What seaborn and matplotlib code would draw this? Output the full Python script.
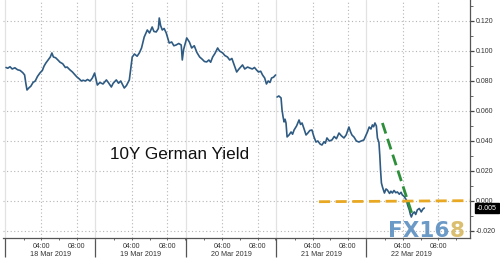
import numpy as np
import pandas as pd
import matplotlib
matplotlib.use("Agg")
import matplotlib.pyplot as plt
import matplotlib.transforms as mtransforms
from matplotlib.ticker import FixedLocator, NullFormatter
import seaborn as sns

# ---------------- data ----------------
day_labels = ["18 Mar 2019", "19 Mar 2019", "20 Mar 2019", "21 Mar 2019", "22 Mar 2019"]
time_tick_hours = [4, 8]
time_tick_labels = ["04:00", "08:00"]
y_ticks = [-0.020, 0.000, 0.020, 0.040, 0.060, 0.080, 0.100, 0.120]
title_text = "10Y German Yield"

hours_18 = [0.0, 0.2, 0.45, 0.7, 1.0, 1.3, 1.6, 1.9, 2.1, 2.25, 2.37, 2.6, 2.8, 3.05, 3.3, 3.55,
            3.85, 4.1, 4.3, 4.5, 4.75, 5.0, 5.18, 5.35, 5.6, 5.86, 6.1, 6.4, 6.7, 6.9, 7.2, 7.5,
            7.8, 8.0, 8.25, 8.5, 8.7, 8.95, 9.2, 9.5, 9.75, 10.0]
yield_18 = [0.0890, 0.0885, 0.0895, 0.0880, 0.0888, 0.0875, 0.0870, 0.0855, 0.0840, 0.0780,
            0.0740, 0.0755, 0.0765, 0.0790, 0.0800, 0.0830, 0.0855, 0.0870, 0.0900, 0.0920,
            0.0940, 0.0960, 0.0987, 0.0960, 0.0955, 0.0940, 0.0925, 0.0915, 0.0890, 0.0893,
            0.0875, 0.0860, 0.0840, 0.0827, 0.0815, 0.0800, 0.0805, 0.0800, 0.0810, 0.0800,
            0.0820, 0.0853]

hours_19 = [0.11, 0.4, 0.75, 1.13, 1.35, 1.69, 1.9, 2.25, 2.5, 2.75, 3.15, 3.4, 3.72, 4.05,
            4.3, 4.6, 4.85, 5.1, 5.4, 5.75, 6.0, 6.3, 6.5, 6.76, 7.0, 7.1, 7.25, 7.44, 7.65,
            7.89, 8.22, 8.5, 8.75, 9.0, 9.3, 9.58, 9.7, 9.85]
yield_19 = [0.0773, 0.0790, 0.0780, 0.0807, 0.0790, 0.0760, 0.0785, 0.0807, 0.0785, 0.0800,
            0.0753, 0.0770, 0.0807, 0.0960, 0.0980, 0.0965, 0.0987, 0.1020, 0.1093, 0.1140,
            0.1120, 0.1160, 0.1130, 0.1127, 0.1150, 0.1220, 0.1170, 0.1140, 0.1150, 0.1120,
            0.1053, 0.1060, 0.1035, 0.1040, 0.1050, 0.1040, 0.0940, 0.1010]

hours_20 = [0.0, 0.3, 0.56, 0.85, 1.15, 1.46, 1.75, 2.0, 2.25, 2.5, 2.7, 2.93, 3.2, 3.49, 3.7,
            4.06, 4.3, 4.6, 4.85, 5.1, 5.4, 5.64, 5.9, 6.3, 6.55, 6.87, 7.1, 7.4, 7.65, 7.89,
            8.1, 8.35, 8.56, 8.8, 9.0, 9.2, 9.4, 9.58, 9.8, 10.03]
yield_20 = [0.1087, 0.1060, 0.1020, 0.1035, 0.0990, 0.0960, 0.0945, 0.0930, 0.0927, 0.0940,
            0.0925, 0.0960, 0.0985, 0.1020, 0.1000, 0.0987, 0.0970, 0.0960, 0.0940, 0.0950,
            0.0900, 0.0860, 0.0880, 0.0907, 0.0880, 0.0893, 0.0887, 0.0880, 0.0890, 0.0873,
            0.0860, 0.0865, 0.0840, 0.0820, 0.0780, 0.0800, 0.0790, 0.0820, 0.0825, 0.0840]

hours_21 = [0.0, 0.2, 0.45, 0.56, 0.68, 0.79, 0.9, 1.01, 1.13, 1.35, 1.58, 1.75, 1.92, 2.2,
            2.48, 2.65, 2.82, 3.05, 3.27, 3.5, 3.7, 3.94, 4.15, 4.39, 4.6, 4.85, 5.07, 5.3,
            5.45, 5.63, 5.9, 6.2, 6.45, 6.7, 6.99, 7.25, 7.55, 7.8, 8.11, 8.3, 8.45, 8.7,
            8.95, 9.24, 9.5, 9.8]
yield_21 = [0.0693, 0.0700, 0.0687, 0.0607, 0.0560, 0.0527, 0.0545, 0.0520, 0.0427, 0.0440,
            0.0460, 0.0445, 0.0473, 0.0500, 0.0540, 0.0510, 0.0520, 0.0480, 0.0440, 0.0455,
            0.0470, 0.0473, 0.0430, 0.0393, 0.0400, 0.0380, 0.0373, 0.0395, 0.0385, 0.0420,
            0.0400, 0.0407, 0.0430, 0.0415, 0.0453, 0.0435, 0.0420, 0.0440, 0.0493, 0.0460,
            0.0440, 0.0425, 0.0400, 0.0393, 0.0400, 0.0407]

hours_22 = [0.0, 0.2, 0.4, 0.56, 0.7, 0.85, 1.01, 1.13, 1.3, 1.4, 1.48, 1.58, 1.7, 1.92, 2.1,
            2.25, 2.5, 2.65, 2.82, 3.0, 3.2, 3.38, 3.6, 3.8, 3.94, 4.15, 4.39, 4.55, 4.73,
            4.85, 4.96, 5.1, 5.3, 5.45, 5.63, 5.85, 6.08, 6.25, 6.42]
yield_22 = [0.0460, 0.0493, 0.0480, 0.0507, 0.0495, 0.0520, 0.0500, 0.0420, 0.0390, 0.0300,
            0.0207, 0.0120, 0.0093, 0.0053, 0.0080, 0.0073, 0.0050, 0.0065, 0.0053, 0.0070,
            0.0055, 0.0060, 0.0045, 0.0058, 0.0040, 0.0030, 0.0007, -0.0030, -0.0060, -0.0090,
            -0.0107, -0.0085, -0.0073, -0.0090, -0.0060, -0.0050, -0.0073, -0.0055, -0.0047]

# line breaks (gap) only between 20 Mar and 21 Mar
segment_of_day = [0, 0, 0, 1, 1]

# annotation lines (day index, hour, value)
green_day = [4, 4]
green_hour = [1.69, 5.07]
green_val = [0.0520, -0.0093]
orange_day = [3, 4]
orange_hour = [4.73, 11.5]
orange_val = [-0.0005, 0.0002]

# ---------------- build frame ----------------
DAY_SPAN = 10.2  # compressed session length (hours shown per day)

def to_x(day, hour):
    return day * DAY_SPAN + hour

all_hours = [hours_18, hours_19, hours_20, hours_21, hours_22]
all_yields = [yield_18, yield_19, yield_20, yield_21, yield_22]
rows = []
for d, (hs, ys) in enumerate(zip(all_hours, all_yields)):
    for h, v in zip(hs, ys):
        rows.append({"seg": segment_of_day[d], "x": to_x(d, h), "yield": v})
df = pd.DataFrame(rows)

# ---------------- plot ----------------
sns.set_style("white")
plt.rcParams["font.family"] = ["Liberation Sans", "DejaVu Sans"]

fig = plt.figure(figsize=(5.0, 2.61), dpi=100)
ax = fig.add_axes([0.006, 0.0881, 0.934, 0.9119])

x_left = to_x(0, -0.34)
x_right = to_x(4, 11.58)
ax.set_xlim(x_left, x_right)
ax.set_ylim(-0.0247, 0.134)

# grid
grid_c = "#b5b5b5"
for yv in y_ticks:
    ax.axhline(yv, color=grid_c, lw=0.8, ls=(0, (1, 2.2)), zorder=0)
for d in range(len(day_labels)):
    for h in time_tick_hours:
        ax.axvline(to_x(d, h), color=grid_c, lw=0.8, ls=(0, (1, 2.2)), zorder=0)
    ax.axvline(to_x(d, -0.11), color="#e2e2e2", lw=0.9, zorder=0)

sns.lineplot(data=df, x="x", y="yield", units="seg", estimator=None,
             color="#2f5b82", lw=1.2, ax=ax, zorder=3)

# annotation dashed lines
ax.plot([to_x(d, h) for d, h in zip(orange_day, orange_hour)], orange_val,
        color="#e8a822", lw=2.0, ls=(0, (4, 2)), zorder=4)
ax.plot([to_x(d, h) for d, h in zip(green_day, green_hour)], green_val,
        color="#2e8f3a", lw=2.0, ls=(0, (4, 2)), zorder=4)

# spines
for s in ["top", "left"]:
    ax.spines[s].set_visible(False)
for s in ["right", "bottom"]:
    ax.spines[s].set_visible(True)
    ax.spines[s].set_color("#555555")
    ax.spines[s].set_linewidth(0.9)

# y axis on the right
ax.yaxis.tick_right()
ax.set_yticks(y_ticks)
ax.set_yticklabels([f"{v:.3f}" for v in y_ticks])
ax.yaxis.set_minor_locator(FixedLocator(np.arange(-0.02, 0.135, 0.01)))
ax.tick_params(axis="y", which="major", direction="out", length=3, width=0.9,
               color="#444444", labelsize=5, labelcolor="#333333", pad=1)
ax.tick_params(axis="y", which="minor", direction="out", length=2, width=0.7,
               color="#666666", right=True, left=False)
ax.set_ylabel("")

# x axis: long ticks at day boundaries, small ticks every 2 hours
ax.set_xticks([to_x(d, -0.11) for d in range(len(day_labels))])
ax.set_xticklabels([])
ax.tick_params(axis="x", which="major", direction="out", length=13.5, width=0.9,
               color="#555555", bottom=True)
ax.xaxis.set_minor_locator(FixedLocator([to_x(d, h) for d in range(len(day_labels))
                                         for h in [2, 4, 6, 8, 10]]))
ax.xaxis.set_minor_formatter(NullFormatter())
ax.tick_params(axis="x", which="minor", direction="out", length=1.5, width=0.7,
               color="#666666", bottom=True)
ax.set_xlabel("")

trans = mtransforms.blended_transform_factory(ax.transData, ax.transAxes)
for d, lab in enumerate(day_labels):
    for h, tl in zip(time_tick_hours, time_tick_labels):
        ax.text(to_x(d, h), -0.034, tl, transform=trans, ha="center", va="center",
                fontsize=5, color="#333333")
    ax.text(to_x(d, 5.0), -0.068, lab, transform=trans, ha="center", va="center",
            fontsize=5.2, color="#333333")

# title inside plot
ax.text(to_x(1, 1.5), 0.0313, title_text, fontsize=12.3, color="#111111",
        ha="left", va="center")

# last value box
last_val = yield_22[-1]
ax.annotate(f"{last_val:.3f}", xy=(1.0, last_val), xycoords=("axes fraction", "data"),
            xytext=(5, 0), textcoords="offset points", ha="left", va="center",
            fontsize=5, color="white",
            bbox=dict(boxstyle="square,pad=0.25", fc="black", ec="black"),
            annotation_clip=False, zorder=6)

# FX168 watermark
fig.canvas.draw()
t1 = fig.text(388 / 500, 1 - 237 / 261, "FX16", fontsize=15.5, fontweight="bold",
              family="DejaVu Sans", color="#5b8fc0", alpha=0.9, ha="left", va="baseline")
fig.canvas.draw()
bb = t1.get_window_extent()
fig.text(bb.x1 / fig.bbox.width, 1 - 237 / 261, "8", fontsize=15.5, fontweight="bold",
         family="DejaVu Sans", color="#d8b862", alpha=0.9, ha="left", va="baseline")

fig.savefig("out.png", dpi=100)
